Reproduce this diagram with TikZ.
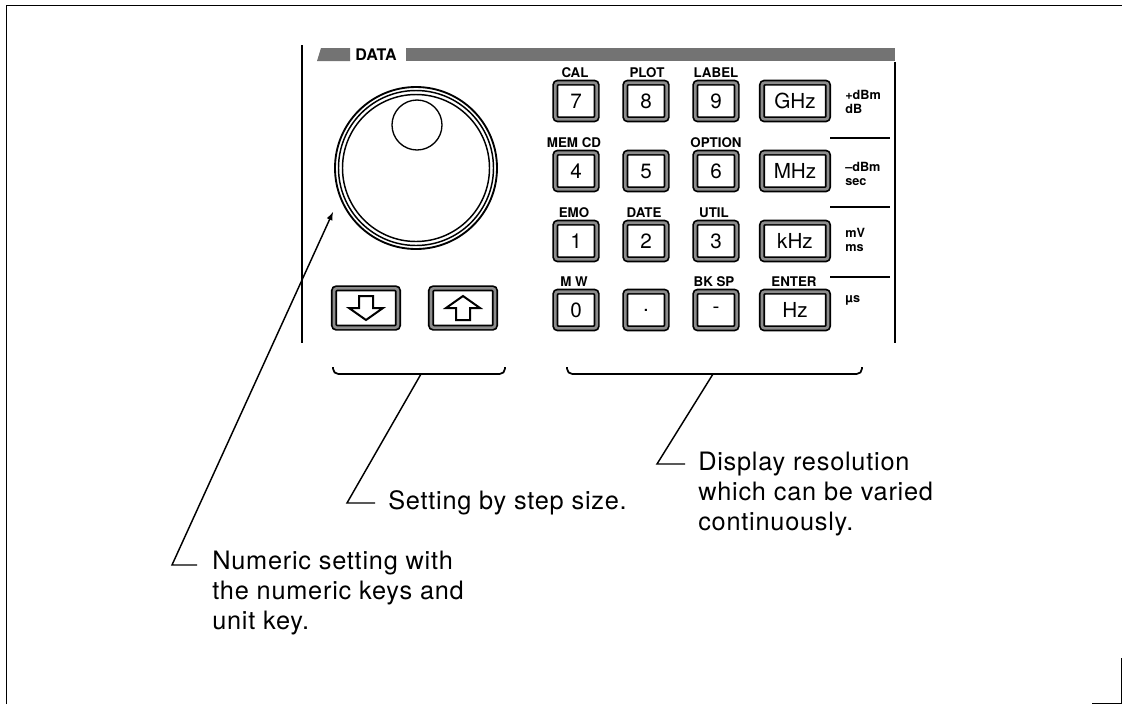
\documentclass[tikz,border=0pt]{standalone}
\usepackage{fontspec}
\setmainfont{TeX Gyre Heros}
\newfontfamily\notefont[LetterSpace=3]{TeX Gyre Heros}
\usetikzlibrary{arrows}

\tikzset{
  key/.style={draw, double=black!45, line width=1.3pt, double distance=2pt, rounded corners=2pt,
    minimum width=31pt, minimum height=27.5pt, inner sep=0pt, font=\fontsize{15.5}{15.5}\selectfont},
  unitkey/.style={key, minimum width=49.5pt},
  arrowkey/.style={key, minimum width=48pt, minimum height=29.5pt},
  keylabel/.style={inner sep=0pt, font=\bfseries\fontsize{10}{10}\selectfont},
  sidelabel/.style={anchor=west, align=left, inner sep=0pt, font=\bfseries\fontsize{9.5}{11}\selectfont},
  note/.style={anchor=west, align=left, inner sep=0pt, font=\notefont\fontsize{19}{22.5}\selectfont},
  leader/.style={line width=1.1pt},
}

\begin{document}
\begin{tikzpicture}[x=0.75pt, y=-0.75pt]
      \useasboundingbox (0,0) rectangle (1122,704);
      % outer frame
      \draw[line width=0.7pt] (6,704) -- (6,5) -- (1122,5);
      \draw[line width=0.7pt] (1092,703) -- (1121,703) -- (1121,658);
      % panel
      \draw[line width=2.2pt] (302,45) -- (302,343);
      \draw[line width=2.2pt] (895,62) -- (895,343);
      \fill[black!55] (321,48) -- (350,48) -- (350,61) -- (317,61) -- cycle;
      \node[inner sep=0pt, font=\bfseries\fontsize{12}{12}\selectfont] (data) at (376,55) {DATA};
      \fill[black!55] (406,48) rectangle (895,61);
      % knob
      \draw[line width=1.4pt] (416,168) circle (81);
      \draw[line width=1.1pt] (416,168) circle (77.5);
      \draw[line width=1.1pt] (416,168) circle (73.5);
      \draw[line width=1pt] (417,125) circle (25);
      % step keys
      \node[arrowkey] (kdown) at (366,308) {};
      \node[arrowkey] (kup) at (463,308) {};
      \draw[line width=1.5pt, shift={(kdown)}] (-7,-12) -- (7,-12) -- (7,0) -- (17,0) -- (0,12) -- (-17,0) -- (-7,0) -- cycle;
      \draw[line width=1.5pt, shift={(kup)}] (-7,12) -- (7,12) -- (7,0) -- (17,0) -- (0,-12) -- (-17,0) -- (-7,0) -- cycle;
      % numeric keys
      \node[key] (k7) at (576,101) {7};
      \node[key] (k8) at (646,101) {8};
      \node[key] (k9) at (716,101) {9};
      \node[unitkey] (kghz) at (795,101) {GHz};
      \node[key] (k4) at (576,171) {4};
      \node[key] (k5) at (646,171) {5};
      \node[key] (k6) at (716,171) {6};
      \node[unitkey] (kmhz) at (795,171) {MHz};
      \node[key] (k1) at (576,241) {1};
      \node[key] (k2) at (646,241) {2};
      \node[key] (k3) at (716,241) {3};
      \node[unitkey] (kkhz) at (795,241) {kHz};
      \node[key] (k0) at (576,310) {0};
      \node[key] (kdot) at (646,310) {.};
      \node[key] (kminus) at (716,310) {-};
      \node[unitkey] (khz) at (795,310) {Hz};
      % labels over the keys
      \node[keylabel] (lcal) at (575,73) {CAL};
      \node[keylabel] (lplot) at (647,73) {PLOT};
      \node[keylabel] (llabel) at (716,73) {LABEL};
      \node[keylabel] (lmem) at (574,143) {MEM CD};
      \node[keylabel] (loption) at (716,143) {OPTION};
      \node[keylabel] (lemo) at (574,213) {EMO};
      \node[keylabel] (ldate) at (644,213) {DATE};
      \node[keylabel] (lutil) at (714,213) {UTIL};
      \node[keylabel] (lmw) at (574,282) {M W};
      \node[keylabel] (lbksp) at (714,282) {BK SP};
      \node[keylabel] (lenter) at (794,282) {ENTER};
      % unit labels
      \node[sidelabel] (ughz) at (845,102) {+dBm\\dB};
      \node[sidelabel] (umhz) at (845,174) {\textendash dBm\\sec};
      \node[sidelabel] (ukhz) at (845,240) {mV\\ms};
      \node[sidelabel] (uhz) at (845,300) {µs};
      \draw[line width=1.6pt] (830,138) -- (890,138);
      \draw[line width=1.6pt] (830,207) -- (890,207);
      \draw[line width=1.6pt] (830,277) -- (890,277);
      % braces
      \draw[line width=1.3pt, rounded corners=4pt] (333,367) -- (333,374) -- (505,374) -- (505,367);
      \draw[line width=1.3pt, rounded corners=4pt] (567,367) -- (567,374) -- (862,374) -- (862,367);
      \coordinate (bstep) at (421,374);
      \coordinate (bkeys) at (713,374);
      % leaders
      \coordinate (tipknob) at (333,212);
      \coordinate (cknob) at (172,565);
      \coordinate (eknob) at (197,565);
      \coordinate (cstep) at (347,503);
      \coordinate (estep) at (375,503);
      \coordinate (ckeys) at (657,464);
      \coordinate (ekeys) at (685,464);
      \draw[leader, latex-] (tipknob) -- (cknob) -- (eknob);
      \draw[leader] (bstep) -- (cstep) -- (estep);
      \draw[leader] (bkeys) -- (ckeys) -- (ekeys);
      \node[note] (tknob) at (212,593) {Numeric setting with\\the numeric keys and\\unit key.};
      \node[note] (tstep) at (388,503) {Setting by step size.};
      \node[note] (tkeys) at (698,494) {Display resolution\\which can be varied\\continuously.};
    \end{tikzpicture}
\end{document}
